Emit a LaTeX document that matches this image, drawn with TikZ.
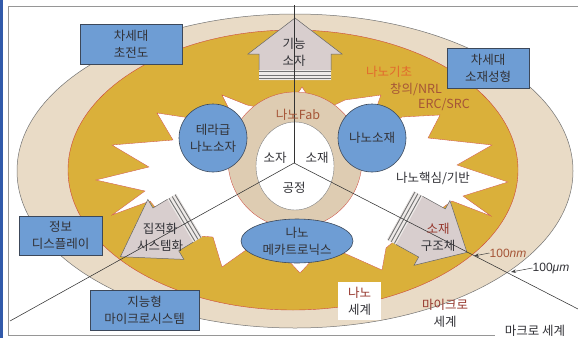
\documentclass[tikz,border=0pt]{standalone}
\usepackage{fontspec}
\newfontfamily\kr{Noto Sans CJK KR}
\newfontfamily\lsans{Liberation Sans}
\usetikzlibrary{shapes.geometric,arrows.meta}
\definecolor{beigeO}{RGB}{233,219,198}
\definecolor{beigeR}{RGB}{222,204,178}
\definecolor{goldc}{RGB}{218,176,58}
\definecolor{bluec}{RGB}{110,157,212}
\definecolor{blueedge}{RGB}{60,72,90}
\definecolor{arrowc}{RGB}{216,206,206}
\definecolor{stripec}{RGB}{238,234,232}
\definecolor{redl}{RGB}{205,70,60}
\definecolor{txt}{RGB}{50,50,55}
\definecolor{brownt}{RGB}{165,85,55}
\definecolor{redt}{RGB}{150,55,45}
\definecolor{oranget}{RGB}{226,105,45}
\definecolor{framec}{RGB}{150,150,150}
\definecolor{stripblue}{RGB}{50,90,170}
\tikzset{
  lbl/.style={font=\kr\fontsize{12.5}{17}\selectfont, text=txt, align=center, inner sep=0pt},
  bluebox/.style={lbl, draw=blueedge, fill=bluec, line width=0.7pt, rectangle},
  bluecirc/.style={lbl, draw=blueedge, fill=bluec, line width=0.6pt, circle, minimum size=68pt},
  radial/.style={draw=black!80, line width=0.55pt},
  arrowedge/.style={draw=black!60, line width=0.5pt},
  ptr/.style={-{Stealth[length=5pt,width=3.5pt]}, draw=black!75, line width=0.5pt},
}
% #1 x, #2 y, #3 rotation, #4 body half width, #5 eave distance, #6 eave half width, #7 tip distance
\newcommand\hsarrow[7]{%
  \begin{scope}[shift={(#1,#2)},rotate=#3]
    \fill[arrowc] (-#4,0) -- (-#4,-#5) -- (-#6,-#5) -- (0,-#7) -- (#6,-#5) -- (#4,-#5) -- (#4,0) -- cycle;
    \fill[stripec] (-#4,0) rectangle (#4,-10);
    \foreach \s in {-1.2,-4.6,-8.2} \draw[black!55, line width=0.9pt] (-#4,\s) -- (#4,\s);
    \draw[arrowedge] (-#4,-10) -- (-#4,-#5) -- (-#6,-#5) -- (0,-#7) -- (#6,-#5) -- (#4,-#5) -- (#4,-10);
  \end{scope}}
\begin{document}
\begin{tikzpicture}[x=1pt,y=-1pt]
\useasboundingbox (0,0) rectangle (578,338);
\fill[white] (0,0) rectangle (578,338);
\fill[stripblue] (0,0) rectangle (2.5,338);
% frame
\draw[framec, line width=1pt] (578,6) -- (8,6) -- (8,335) -- (495,335);
% micro world
\filldraw[fill=beigeO, draw=black!55, line width=0.5pt] (295,171) ellipse [x radius=278pt, y radius=157pt];
% nano world
\filldraw[fill=goldc, draw=redl, line width=0.4pt] (293,170) ellipse [x radius=225pt, y radius=140pt];
% white star burst
\filldraw[fill=white, draw=redl, line width=0.3pt] (302,87) -- (296,96) -- (282,112) -- (247,105) -- (222,95) -- (233,117) -- (213,138) -- (190,118) -- (157,113) -- (173,140) -- (112,145) -- (149,167) -- (96,180) -- (145,191) -- (112,215) -- (150,201) -- (170,225) -- (199,236) -- (213,237) -- (222,267) -- (246,250) -- (270,245) -- (287,259) -- (300,273) -- (313,259) -- (330,245) -- (344,253) -- (382,270) -- (386,248) -- (393,242) -- (418,225) -- (452,201) -- (491,216) -- (463,196) -- (508,182) -- (457,165) -- (492,145) -- (428,138) -- (440,115) -- (402,117) -- (372,138) -- (378,103) -- (381,95) -- (345,100) -- (320,112) -- (308,96) -- cycle;
% house arrows
\hsarrow{295}{80}{0}{36}{26}{47}{62}
\hsarrow{189}{215.5}{121}{25}{27}{35}{80}
\hsarrow{400.5}{215.5}{-119}{27.5}{36}{37}{76}
% nano fab ring and core
\filldraw[fill=beigeR, draw=redl, line width=0.3pt] (295,160) ellipse [x radius=67pt, y radius=68pt];
\filldraw[fill=white, draw=black!50, line width=0.4pt] (295,166) ellipse [x radius=39pt, y radius=44pt];
% blue circles
\node[bluecirc] (tera) at (213,138) {테라급\\나노소자};
\node[bluecirc] (nmat) at (372,138) {나노소재};
\node[lbl, ellipse, draw=blueedge, fill=bluec, line width=0.6pt, minimum width=112pt, minimum height=44pt] (mecha) at (297,241) {나노\\메카트로닉스};
% radial lines
\coordinate (ctr) at (294,163);
\coordinate (topend) at (294,5);
\coordinate (lend) at (10,321);
\coordinate (rend) at (578,309);
\draw[radial] (ctr) -- (topend);
\draw[radial] (ctr) -- (lend);
\draw[radial] (ctr) -- (rend);
% texts
\node[lbl] (func) at (294,52) {기능\\소자};
\node[lbl] (sj) at (275,158) {소자};
\node[lbl] (sje) at (317,158) {소재};
\node[lbl] (gj) at (294,188) {공정};
\node[lbl, text=brownt] (fab) at (298,115) {나노Fab};
\node[lbl, text=oranget] (kicho) at (389,72) {나노기초};
\node[lbl, text=brownt] (nrl) at (416,89) {창의/NRL};
\node[lbl, text=brownt] (erc) at (444,105) {ERC/SRC};
\node[lbl] (core) at (433,178) {나노핵심/기반};
\node[lbl] (integ) at (160,237) {집적화\\시스템화};
\node[lbl] (struct) at (438,237) {\textcolor{redt}{소재}\\구조체};
% boxes
\node[bluebox, minimum width=102pt, minimum height=40pt] (b1) at (131,44) {차세대\\초전도};
\node[bluebox, minimum width=82pt, minimum height=40pt] (b2) at (488,68) {차세대\\소재성형};
\node[bluebox, minimum width=83pt, minimum height=39pt] (b3) at (60.5,235.5) {정보\\디스플레이};
\node[bluebox, minimum width=109pt, minimum height=40pt] (b4) at (144.5,310) {지능형\\마이크로시스템};
% worlds
\node[lbl, fill=white, minimum width=43pt, minimum height=38pt] (nw) at (359.5,301) {\textcolor{redt}{나노}\\세계};
\node[lbl] (mw) at (445,313) {\textcolor{redt}{마이크로}\\세계};
\node[lbl] (macro) at (535,331) {마크로 세계};
% scale markers
\coordinate (p100) at (474,256);
\coordinate (pum) at (511,272);
\node[lbl, text=brownt, font=\lsans\fontsize{12}{14}\selectfont] (nm) at (508,253) {100\textit{nm}};
\node[lbl, font=\lsans\fontsize{12}{14}\selectfont] (um) at (551,268) {100\textit{μm}};
\draw[ptr] (nm.west) -- (p100);
\draw[ptr] (um.west) -- (pum);
\end{tikzpicture}
\end{document}
